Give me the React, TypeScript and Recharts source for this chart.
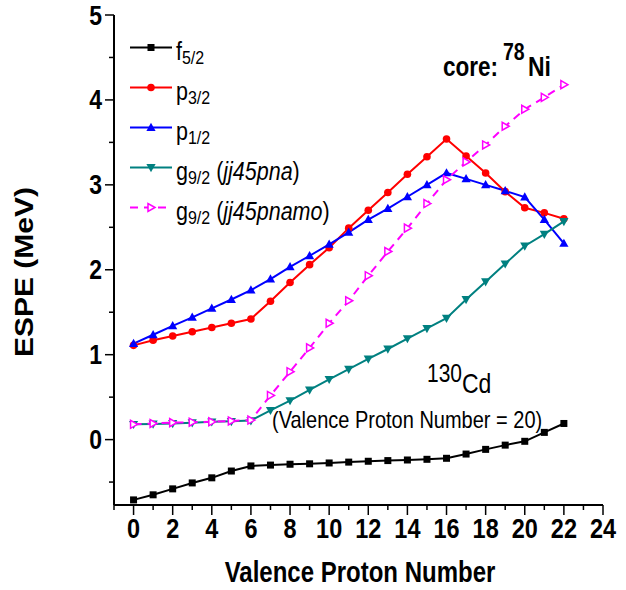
import React from "react";
import {
  LineChart,
  Line,
  XAxis,
  YAxis,
  Legend,
  Customized,
} from "recharts";

// values
const protonNumber = [0, 1, 2, 3, 4, 5, 6, 7, 8, 9, 10, 11, 12, 13, 14, 15, 16, 17, 18, 19, 20, 21, 22];
const f52 = [-0.71, -0.65, -0.58, -0.51, -0.45, -0.37, -0.31, -0.3, -0.29, -0.285, -0.275, -0.265, -0.255, -0.247, -0.24, -0.232, -0.22, -0.17, -0.115, -0.065, -0.02, 0.085, 0.19];
const p32 = [1.11, 1.17, 1.22, 1.27, 1.32, 1.37, 1.42, 1.63, 1.85, 2.06, 2.26, 2.49, 2.7, 2.91, 3.125, 3.33, 3.54, 3.34, 3.14, 2.92, 2.73, 2.67, 2.6];
const p12 = [1.13, 1.235, 1.34, 1.44, 1.545, 1.65, 1.76, 1.89, 2.035, 2.165, 2.3, 2.44, 2.59, 2.72, 2.86, 3.0, 3.14, 3.07, 3.0, 2.93, 2.855, 2.59, 2.31];
const g92pna = [0.18, 0.185, 0.19, 0.2, 0.21, 0.215, 0.224, 0.345, 0.46, 0.585, 0.71, 0.83, 0.95, 1.067, 1.19, 1.31, 1.43, 1.65, 1.86, 2.07, 2.28, 2.42, 2.57];
const g92pnamo = [0.18, 0.19, 0.2, 0.205, 0.21, 0.22, 0.23, 0.52, 0.8, 1.08, 1.37, 1.635, 1.93, 2.215, 2.49, 2.78, 3.06, 3.27, 3.47, 3.69, 3.89, 4.03, 4.18];

const xTicks = [-1, 0, 1, 2, 3, 4, 5, 6, 7, 8, 9, 10, 11, 12, 13, 14, 15, 16, 17, 18, 19, 20, 21, 22, 23, 24];
const yTicks = [-0.5, 0, 0.5, 1, 1.5, 2, 2.5, 3, 3.5, 4, 4.5, 5];

const data = protonNumber.map((n, i) => ({
  n,
  f52: f52[i],
  p32: p32[i],
  p12: p12[i],
  g92pna: g92pna[i],
  g92pnamo: g92pnamo[i],
}));

const FONT = "'Liberation Sans', Arial, sans-serif";
const SY = 1.2; // the figure's text is stretched vertically

const T = ({ x, y, size, weight = "normal", anchor = "start", rot = false, children }: any) => (
  <text
    transform={`translate(${x},${y}) scale(1,${SY})${rot ? " rotate(-90)" : ""}`}
    fontFamily={FONT}
    fontSize={size}
    fontWeight={weight}
    textAnchor={anchor}
    fill="#000"
  >
    {children}
  </text>
);

// markers
const marker = (kind: string, cx: number, cy: number, key?: any) => {
  switch (kind) {
    case "square":
      return <rect key={key} x={cx - 3.5} y={cy - 3.5} width={7} height={7} fill="#000" />;
    case "circle":
      return <circle key={key} cx={cx} cy={cy} r={3.8} fill="#ff0000" />;
    case "up":
      return <polygon key={key} points={`${cx},${cy - 4.8} ${cx - 4.6},${cy + 3.4} ${cx + 4.6},${cy + 3.4}`} fill="#0000ff" />;
    case "down":
      return <polygon key={key} points={`${cx},${cy + 4.8} ${cx - 4.6},${cy - 3.4} ${cx + 4.6},${cy - 3.4}`} fill="#008080" />;
    default:
      return (
        <polygon
          key={key}
          points={`${cx + 4},${cy} ${cx - 3},${cy - 4} ${cx - 3},${cy + 4}`}
          fill="#fff"
          stroke="#ff00ff"
          strokeWidth={1.5}
        />
      );
  }
};

const series = [
  { key: "f52", color: "#000000", kind: "square", main: "f", sub: "5/2", tag: "" },
  { key: "p32", color: "#ff0000", kind: "circle", main: "p", sub: "3/2", tag: "" },
  { key: "p12", color: "#0000ff", kind: "up", main: "p", sub: "1/2", tag: "" },
  { key: "g92pna", color: "#008080", kind: "down", main: "g", sub: "9/2", tag: "jj45pna" },
  { key: "g92pnamo", color: "#ff00ff", kind: "open", main: "g", sub: "9/2", tag: "jj45pnamo", dash: "8 6" },
];

const BottomTick = ({ x, y, payload }: any) => {
  const v = payload.value;
  const major = v >= 0 && v % 2 === 0;
  return (
    <g>
      <line x1={x} x2={x} y1={y} y2={y + (major ? 10 : 5)} stroke="#000" strokeWidth={1.5} />
      {major && (
        <T x={x} y={y + 33} size={23.5} weight="bold" anchor="middle">
          {v}
        </T>
      )}
    </g>
  );
};

const TopTick = ({ x, y, payload }: any) => {
  const major = payload.value >= 0 && payload.value % 2 === 0;
  return <line x1={x} x2={x} y1={y} y2={y + (major ? 10 : 5)} stroke="#000" strokeWidth={1.5} />;
};

const LeftTick = ({ x, y, payload }: any) => {
  const v = payload.value;
  const major = Number.isInteger(v);
  return (
    <g>
      <line x1={x} x2={x - (major ? 9 : 5)} y1={y} y2={y} stroke="#000" strokeWidth={1.5} />
      {major && (
        <T x={x - 12} y={y + 9.5} size={23} weight="bold" anchor="end">
          {v}
        </T>
      )}
    </g>
  );
};

const RightTick = ({ x, y, payload }: any) => {
  const major = Number.isInteger(payload.value);
  return <line x1={x} x2={x - (major ? 9 : 5)} y1={y} y2={y} stroke="#000" strokeWidth={1.5} />;
};

const renderLegend = () => (
  <svg width={340} height={230}>
    {series.map((s, i) => {
      const ly = 47.5 + i * 40;
      return (
        <g key={s.key}>
          <line x1={130} x2={172} y1={ly} y2={ly} stroke={s.color} strokeWidth={2} strokeDasharray={s.dash} />
          {marker(s.kind, 151, ly)}
          <text
            transform={`translate(176,${ly + 12}) scale(1,${SY})`}
            fontFamily={FONT}
            fontSize={21.5}
            fill="#000"
          >
            {s.main}
            <tspan fontSize={16} dy={3.5}>
              {s.sub}
            </tspan>
            {s.tag && (
              <>
                <tspan dy={-3.5}> (</tspan>
                <tspan fontStyle="italic">{s.tag}</tspan>
                <tspan>)</tspan>
              </>
            )}
          </text>
        </g>
      );
    })}
  </svg>
);

const Annotations = () => (
  <g>
    <T x={443} y={76} size={22.5} weight="bold">
      core:
    </T>
    <T x={503} y={60} size={19.5} weight="bold">
      78
    </T>
    <T x={528} y={76} size={23} weight="bold">
      Ni
    </T>
    <T x={427} y={382} size={21}>
      130
    </T>
    <T x={462} y={393} size={23}>
      Cd
    </T>
    <T x={272} y={428} size={20}>
      (Valence Proton Number = 20)
    </T>
    <T x={360} y={582} size={24} weight="bold" anchor="middle">
      Valence Proton Number
    </T>
    <T x={33} y={272} size={25} weight="bold" anchor="middle" rot>
      ESPE (MeV)
    </T>
  </g>
);

export default function App() {
  return (
    <div style={{ position: "absolute", left: 0, top: 0, background: "#fff" }}>
      <LineChart width={626} height={590} data={data} margin={{ top: 15, right: 23, bottom: 0, left: 0 }}>
        <XAxis
          dataKey="n"
          type="number"
          domain={[-1, 24]}
          ticks={xTicks}
          interval={0}
          height={85}
          tickSize={0}
          tickMargin={0}
          tick={<BottomTick />}
          axisLine={{ stroke: "#000", strokeWidth: 2 }}
          tickLine={false}
        />
        <XAxis
          xAxisId="top"
          orientation="top"
          dataKey="n"
          type="number"
          domain={[-1, 24]}
          ticks={xTicks}
          interval={0}
          height={0}
          tickSize={0}
          tickMargin={0}
          tick={<TopTick />}
          axisLine={{ stroke: "#000", strokeWidth: 2 }}
          tickLine={false}
        />
        <YAxis
          type="number"
          domain={[-0.77, 5]}
          ticks={yTicks}
          interval={0}
          width={114}
          tickSize={0}
          tickMargin={0}
          tick={<LeftTick />}
          axisLine={{ stroke: "#000", strokeWidth: 2 }}
          tickLine={false}
          allowDataOverflow
        />
        <YAxis
          yAxisId="right"
          orientation="right"
          type="number"
          domain={[-0.77, 5]}
          ticks={yTicks}
          interval={0}
          width={0}
          tickSize={0}
          tickMargin={0}
          tick={<RightTick />}
          axisLine={{ stroke: "#000", strokeWidth: 2 }}
          tickLine={false}
          allowDataOverflow
        />
        {series.map((s) => (
          <Line
            key={s.key}
            dataKey={s.key}
            stroke={s.color}
            strokeWidth={2}
            strokeDasharray={s.dash}
            type="linear"
            isAnimationActive={false}
            dot={(p: any) => marker(s.kind, p.cx, p.cy, p.index)}
            activeDot={false}
          />
        ))}
        <Legend
          layout="horizontal"
          verticalAlign="middle"
          content={renderLegend}
          wrapperStyle={{ left: 0, top: 0, width: 340, height: 230 }}
        />
        <Customized component={Annotations} />
      </LineChart>
    </div>
  );
}
